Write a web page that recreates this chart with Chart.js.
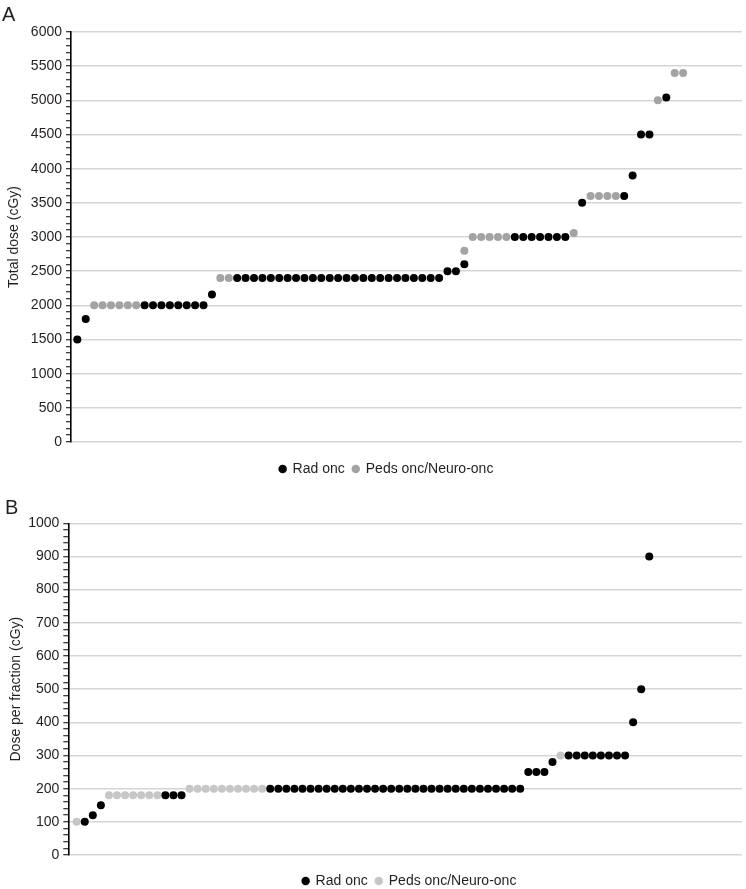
<!DOCTYPE html>
<html><head><meta charset="utf-8">
<script src="https://cdn.jsdelivr.net/npm/chart.js@4.4.0/dist/chart.umd.min.js"></script>
<style>
html,body{margin:0;padding:0;background:#fff;}
body{width:746px;height:889px;overflow:hidden;position:relative;font-family:'Liberation Sans',Arial,Helvetica,sans-serif;}
.panel{position:absolute;left:0;width:746px;}
.letter{position:absolute;font-size:20px;line-height:20px;color:#231f20;z-index:2;}
</style></head><body>
<div class="letter" style="left:2px;top:4px">A</div>
<div class="panel" style="top:0;height:486px"><canvas id="chartA" width="746" height="486" style="width:746px;height:486px"></canvas></div>
<div class="letter" style="left:5px;top:497px">B</div>
<div class="panel" style="top:486px;height:412px"><canvas id="chartB" width="746" height="412" style="width:746px;height:412px"></canvas></div>
<script>
const seriesNames = ['Rad onc', 'Peds onc/Neuro-onc'];

// Panel A: total dose (cGy), one slot per respondent (sorted)
const totalDoseRadOnc = [
  1500, 1800, null, null, null, null, null, null,
  2000, 2000, 2000, 2000, 2000, 2000, 2000, 2000,
  2160, null, null,
  2400, 2400, 2400, 2400, 2400, 2400, 2400, 2400, 2400, 2400,
  2400, 2400, 2400, 2400, 2400, 2400, 2400, 2400, 2400, 2400,
  2400, 2400, 2400, 2400, 2400,
  2500, 2500, 2600,
  null, null, null, null, null,
  3000, 3000, 3000, 3000, 3000, 3000, 3000,
  null, 3500, null, null, null, null, 3600, 3900, 4500, 4500, null, 5040, null, null
];
const totalDosePedsOnc = [
  null, null, 2000, 2000, 2000, 2000, 2000, 2000,
  null, null, null, null, null, null, null, null, null,
  2400, 2400,
  null, null, null, null, null, null, null, null, null, null,
  null, null, null, null, null, null, null, null, null, null,
  null, null, null, null, null, null, null,
  2800,
  3000, 3000, 3000, 3000, 3000,
  null, null, null, null, null, null, null,
  3060, null, 3600, 3600, 3600, 3600, null, null, null, null, 5000, null, 5400, 5400
];
const totalDoseTickLabels = ['0','500','1000','1500','2000','2500','3000','3500','4000','4500','5000','5500','6000'];

// Panel B: dose per fraction (cGy)
const fractionDoseRadOnc = [
  null, 100, 120, 150,
  null, null, null, null, null, null, null,
  180, 180, 180,
  null, null, null, null, null, null, null, null, null, null,
  200, 200, 200, 200, 200, 200, 200, 200, 200, 200,
  200, 200, 200, 200, 200, 200, 200, 200, 200, 200,
  200, 200, 200, 200, 200, 200, 200, 200, 200, 200,
  200, 200,
  250, 250, 250, 280, null,
  300, 300, 300, 300, 300, 300, 300, 300,
  400, 500, 900
];
const fractionDosePedsOnc = [
  100, null, null, null,
  180, 180, 180, 180, 180, 180, 180,
  null, null, null,
  200, 200, 200, 200, 200, 200, 200, 200, 200, 200,
  null, null, null, null, null, null, null, null, null, null,
  null, null, null, null, null, null, null, null, null, null,
  null, null, null, null, null, null, null, null, null, null,
  null, null, null, null, null, null,
  300,
  null, null, null, null, null, null, null, null, null, null, null
];
const fractionDoseTickLabels = ['0','100','200','300','400','500','600','700','800','900','1000'];

const FONT = "'Liberation Sans', Arial, Helvetica, sans-serif";
const TEXT = '#231f20';
Chart.defaults.font.family = FONT;
Chart.defaults.color = TEXT;

const legendShift = {
  id: 'legendShift',
  afterLayout(chart, args, opts) {
    const l = chart.legend;
    if (l && opts && opts.dx) { l.left += opts.dx; l.right += opts.dx; }
  }
};

const toPoints = arr => arr.map((y, x) => ({x, y})).filter(p => p.y !== null);

function makeChart(id, rad, peds, c) {
  return new Chart(document.getElementById(id), {
    type: 'scatter',
    plugins: [legendShift],
    data: {
      datasets: [
        {label: seriesNames[0], data: toPoints(rad), backgroundColor: '#000', borderColor: '#000',
         borderWidth: 0, pointRadius: c.r, pointHoverRadius: c.r, pointBorderWidth: 0, showLine: false},
        {label: seriesNames[1], data: toPoints(peds), backgroundColor: c.pedsColor, borderColor: c.pedsColor,
         borderWidth: 0, pointRadius: c.r, pointHoverRadius: c.r, pointBorderWidth: 0, showLine: false}
      ]
    },
    options: {
      responsive: false,
      animation: false,
      events: [],
      layout: {padding: {top: c.padTop, right: 1, bottom: 0, left: 0}},
      plugins: {
        tooltip: {enabled: false},
        legendShift: {dx: c.legendDx},
        legend: {
          position: 'bottom',
          labels: {usePointStyle: true, pointStyle: 'circle', boxWidth: 6, boxHeight: 6,
                   padding: 8, color: TEXT, font: {size: 14, family: FONT}}
        }
      },
      scales: {
        x: {
          type: 'linear', min: c.xMin, max: c.xMax,
          grid: {display: false}, border: {display: false}, ticks: {display: false},
          afterFit: s => { s.height = c.xAxisH; }
        },
        y: {
          min: 0, max: c.yMax,
          afterFit: s => { s.width = c.axisW; },
          border: {display: true, color: '#000', width: 1.6},
          grid: {
            color: ctx => (ctx.tick && Math.round(ctx.tick.value) % c.major === 0) ? '#d5d5d5' : 'rgba(0,0,0,0)',
            lineWidth: 1.5, drawTicks: true, tickLength: 5, tickColor: '#000', tickWidth: 1
          },
          ticks: {
            stepSize: c.minor, autoSkip: false, padding: 4, color: TEXT, font: {size: 14, family: FONT},
            callback: v => c.labels.includes(String(Math.round(v))) ? String(Math.round(v)) : ''
          },
          title: {display: true, text: c.title, color: TEXT, font: {size: 14, family: FONT},
                  padding: {top: c.titlePad, bottom: 0}}
        }
      }
    }
  });
}

makeChart('chartA', totalDoseRadOnc, totalDosePedsOnc, {
  r: 4.0, pedsColor: '#a3a3a3', yMax: 6000, major: 500, minor: 100, labels: totalDoseTickLabels,
  title: 'Total dose (cGy)', xMin: -0.75, xMax: 79, padTop: 32, axisW: 71, xAxisH: 12,
  legendDx: 14, titlePad: 6
});
makeChart('chartB', fractionDoseRadOnc, fractionDosePedsOnc, {
  r: 4.0, pedsColor: '#c6c6c6', yMax: 1000, major: 100, minor: 20, labels: fractionDoseTickLabels,
  title: 'Dose per fraction (cGy)', xMin: -1.04, xMax: 82.5, padTop: 37.3, axisW: 68.3, xAxisH: 11,
  legendDx: 37, titlePad: 8
});
</script>
</body></html>
